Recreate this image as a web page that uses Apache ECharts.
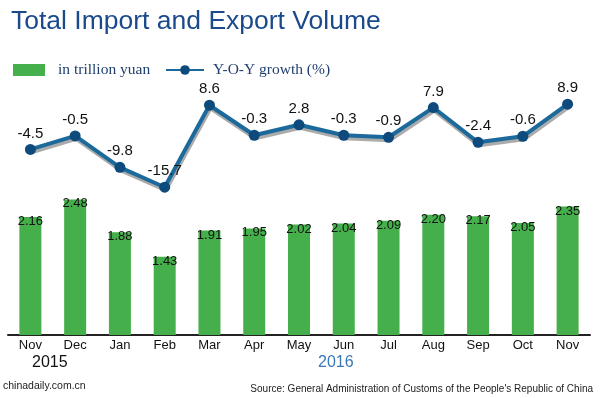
<!DOCTYPE html>
<html><head><meta charset="utf-8">
<script src="https://cdn.jsdelivr.net/npm/echarts@6/dist/echarts.min.js"></script>
<style>html,body{margin:0;padding:0;background:#fff}#c{width:600px;height:398px}</style>
</head><body><div id="c"></div>
<script>
var months = ['Nov','Dec','Jan','Feb','Mar','Apr','May','Jun','Jul','Aug','Sep','Oct','Nov'];
var volume = [2.16,2.48,1.88,1.43,1.91,1.95,2.02,2.04,2.09,2.20,2.17,2.05,2.35];
var growth = [-4.5,-0.5,-9.8,-15.7,8.6,-0.3,2.8,-0.3,-0.9,7.9,-2.4,-0.6,8.9];
var growthLabels = ['-4.5','-0.5','-9.8','-15.7','8.6','-0.3','2.8','-0.3','-0.9','7.9','-2.4','-0.6','8.9'];
var volumeLabels = ['2.16','2.48','1.88','1.43','1.91','1.95','2.02','2.04','2.09','2.20','2.17','2.05','2.35'];

var chart = echarts.init(document.getElementById('c'), null, {renderer:'canvas'});
chart.setOption({
  animation:false,
  backgroundColor:'#fff',
  title:{text:'Total Import and Export Volume', left:6, top:3,
    textStyle:{fontFamily:'Arial, Liberation Sans', fontSize:26.5, fontWeight:'normal', color:'#1a4a8c'}},
  legend:[{
    data:[{name:'in trillion yuan', icon:'rect'}], left:13, top:62, padding:0, itemWidth:32, itemHeight:12,
    textStyle:{fontFamily:'Liberation Serif', fontSize:15.5, color:'#1f3f6f', padding:[0,0,0,8]}
  },{
    data:['Y-O-Y growth (%)'], left:165, top:62, padding:0, itemWidth:38, itemHeight:12,
    textStyle:{fontFamily:'Liberation Serif', fontSize:15.5, color:'#1f3f6f', padding:[0,0,0,4]}
  }],
  grid:{left:8, right:10, top:60, height:275},
  xAxis:{type:'category', data:months, boundaryGap:true,
    axisLine:{lineStyle:{color:'#222', width:2}}, axisTick:{show:false},
    axisLabel:{fontFamily:'Arial, Liberation Sans', fontSize:13, color:'#111', margin:4}},
  yAxis:[{type:'value', min:0, max:5.03, show:false, splitLine:{show:false}},
         {type:'value', min:-59.5, max:22, show:false, splitLine:{show:false}}],
  series:[{
    name:'in trillion yuan', type:'bar', data:volume, barWidth:22,
    itemStyle:{color:'#45b04b'},
    label:{show:true, position:'insideTop', distance:0, offset:[0,-2],
      formatter:function(p){return volumeLabels[p.dataIndex];},
      fontFamily:'Arial, Liberation Sans', fontSize:13, color:'#111'}
  },{
    name:'Y-O-Y growth (%)', type:'line', yAxisIndex:1, data:growth,
    symbol:'circle', symbolSize:11,
    lineStyle:{color:'#1c6a9c', width:4, shadowColor:'rgba(150,150,150,0.8)', shadowOffsetX:1, shadowOffsetY:3, shadowBlur:0},
    itemStyle:{color:'#0e4a7c'},
    label:{show:true, position:'top', distance:3,
      formatter:function(p){return growthLabels[p.dataIndex];},
      fontFamily:'Arial, Liberation Sans', fontSize:15, color:'#111'},
    z:3
  }],
  graphic:[
    {type:'text', left:32, top:355, style:{text:'2015', font:'16px Arial, Liberation Sans', fill:'#111'}},
    {type:'text', left:318, top:355, style:{text:'2016', font:'16px Arial, Liberation Sans', fill:'#3a78b8'}},
    {type:'text', left:3, top:381, style:{text:'chinadaily.com.cn', font:'10.5px Arial, Liberation Sans', fill:'#222'}},
    {type:'text', right:7, top:384, style:{text:"Source: General Administration of Customs of the People's Republic of China", font:'10px Arial, Liberation Sans', fill:'#222'}}
  ]
});
</script></body></html>
